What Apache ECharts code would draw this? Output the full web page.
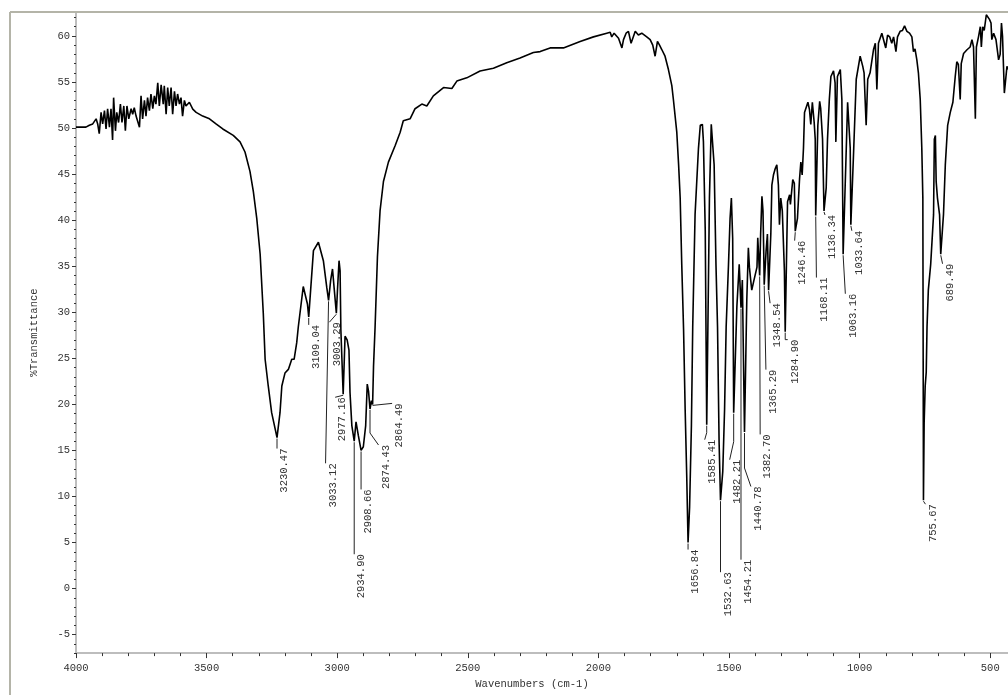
<!DOCTYPE html>
<html>
<head>
<meta charset="utf-8">
<title>IR spectrum</title>
<script src="https://cdn.jsdelivr.net/npm/echarts@6/dist/echarts.min.js"></script>
<style>
  html, body { margin: 0; padding: 0; background: #ffffff; }
  #chart { width: 1008px; height: 695px; }
</style>
</head>
<body>
<div id="chart"></div>
<script>
// Spectrum trace: wavenumber (cm-1) and %Transmittance, high to low wavenumber
const wavenumbers = [
  4000, 3962, 3949, 3936, 3923, 3917, 3911, 3904, 3898, 3891, 3885, 3879, 3872, 3866, 3860, 3856,
  3849, 3844, 3837, 3830, 3824, 3817, 3811, 3805, 3798, 3789, 3783, 3777, 3770, 3764, 3757, 3751,
  3745, 3738, 3732, 3726, 3719, 3713, 3706, 3700, 3694, 3687, 3681, 3674, 3666, 3662, 3655, 3649,
  3643, 3636, 3630, 3623, 3617, 3611, 3604, 3598, 3592, 3585, 3579, 3566, 3553, 3540, 3515, 3489,
  3464, 3438, 3398, 3372, 3353, 3334, 3321, 3308, 3295, 3283, 3276, 3264, 3251, 3238, 3230.47, 3219,
  3212, 3200, 3187, 3174, 3165, 3155, 3149, 3130, 3114, 3109.04, 3091, 3072, 3053, 3040, 3033.12, 3025,
  3018, 3012, 3003.29, 2999, 2993, 2989, 2986, 2977.16, 2970, 2962, 2955, 2951, 2944, 2934.9, 2928, 2919,
  2908.66, 2900, 2891, 2885, 2880, 2874.43, 2869, 2864.49, 2861, 2855, 2846, 2836, 2823, 2804, 2778, 2759,
  2747, 2721, 2702, 2676, 2657, 2632, 2593, 2561, 2542, 2504, 2453, 2402, 2351, 2300, 2249, 2223,
  2185, 2134, 2070, 2019, 1968, 1955, 1949, 1940, 1923, 1910, 1904, 1894, 1885, 1875, 1859, 1847,
  1834, 1815, 1802, 1792, 1783, 1774, 1766, 1757, 1745, 1732, 1719, 1713, 1700, 1693, 1687, 1681,
  1674, 1668, 1662, 1656.84, 1651, 1644, 1639, 1630, 1617, 1610, 1602, 1598, 1591, 1585.41, 1575, 1568,
  1562, 1557, 1550, 1544, 1538, 1532.63, 1524, 1517, 1511, 1502, 1496, 1491, 1486, 1482.21, 1470, 1461,
  1454.21, 1449, 1440.78, 1432, 1426, 1422, 1417, 1413, 1406, 1400, 1393, 1390, 1385, 1382.7, 1379, 1374,
  1370, 1367, 1365.29, 1358, 1353, 1348.54, 1340, 1336, 1330, 1323, 1317, 1311, 1307, 1302, 1296, 1288,
  1284.9, 1276, 1268, 1265, 1256, 1250, 1246.46, 1238, 1230, 1225, 1220, 1215, 1211, 1205, 1198, 1192,
  1187, 1181, 1174, 1170, 1168.11, 1160, 1153, 1149, 1142, 1136.34, 1128, 1123, 1116, 1110, 1100, 1094,
  1091, 1085, 1074, 1068, 1063.16, 1053, 1046, 1042, 1036, 1033.64, 1024, 1013, 998, 988, 983, 979,
  975, 969, 960, 947, 940, 934, 928, 915, 908, 900, 893, 885, 877, 870, 861, 855,
  845, 836, 828, 819, 809, 800, 794, 788, 781, 775, 768, 762, 758, 755.67, 753, 749,
  745, 742, 737, 728, 717, 714, 710, 707, 702, 694, 689.49, 679, 672, 663, 653, 643,
  634, 628, 622, 615, 611, 602, 589, 577, 570, 564, 557, 553, 545, 538, 534, 529,
  523, 515, 510, 503, 497, 494, 487, 478, 468, 462, 457, 453, 446, 441, 436, 432
];
const transmittance = [
  50.1, 50.1, 50.3, 50.45, 51.0, 50.45, 49.4, 51.7, 50.45, 51.9, 49.9, 52.1, 50.1, 52.1, 48.7, 53.3,
  49.7, 51.7, 50.6, 52.6, 50.6, 52.4, 49.7, 52.4, 51.0, 52.1, 51.5, 52.2, 51.3, 51.2, 50.1, 53.5,
  51.0, 53.0, 51.3, 53.3, 51.9, 53.7, 52.1, 53.5, 52.6, 54.9, 52.4, 54.7, 52.6, 54.6, 51.5, 54.4,
  52.4, 54.4, 51.5, 54.0, 52.4, 53.7, 52.6, 53.3, 51.3, 53.0, 52.4, 52.8, 52.05, 51.7, 51.3, 51.0,
  50.45, 49.9, 49.2, 48.5, 47.4, 45.3, 43.1, 40.2, 36.3, 29.9, 24.9, 22.0, 19.1, 17.4, 16.4, 19.1,
  22.0, 23.4, 23.8, 24.9, 24.9, 26.7, 28.4, 32.8, 30.9, 29.5, 36.7, 37.6, 35.6, 32.7, 31.3, 33.5,
  34.7, 32.7, 29.9, 32.4, 35.6, 34.5, 28.1, 21.1, 27.4, 27.0, 25.9, 21.3, 17.7, 16.0, 18.1, 16.6,
  15.0, 15.4, 17.7, 22.2, 21.4, 19.5, 20.4, 20.0, 24.1, 28.4, 36.0, 41.0, 44.2, 46.3, 48.1, 49.55,
  50.8, 51.0, 52.1, 52.6, 52.4, 53.5, 54.4, 54.3, 55.1, 55.45, 56.2, 56.5, 57.1, 57.6, 58.2, 58.3,
  58.7, 58.7, 59.4, 59.9, 60.3, 60.4, 59.9, 60.3, 59.75, 58.7, 59.6, 60.3, 60.5, 59.2, 60.5, 60.1,
  60.3, 59.9, 59.6, 59.0, 57.8, 59.4, 59.0, 58.5, 57.8, 56.35, 54.6, 53.1, 49.55, 46.0, 42.4, 35.2,
  28.1, 19.5, 12.3, 5.0, 8.8, 17.7, 28.4, 40.6, 47.8, 50.3, 50.4, 48.5, 38.8, 17.8, 42.4, 50.4,
  50.3, 46.0, 35.2, 28.4, 15.9, 9.6, 12.7, 19.5, 28.4, 35.2, 40.2, 42.4, 38.0, 19.1, 30.6, 35.2,
  30.5, 33.5, 17.0, 31.3, 37.0, 34.9, 33.5, 32.4, 33.3, 33.1, 34.9, 38.1, 35.2, 34.0, 38.5, 42.6,
  41.0, 36.3, 33.0, 36.7, 38.5, 32.4, 38.5, 43.8, 44.9, 45.6, 46.0, 43.8, 39.5, 42.4, 41.0, 34.5,
  27.9, 42.0, 42.75, 41.7, 44.4, 44.0, 38.8, 40.2, 44.5, 46.3, 44.9, 47.8, 51.7, 52.2, 52.8, 52.0,
  50.4, 52.8, 50.6, 48.8, 40.5, 50.3, 52.9, 52.1, 48.8, 41.0, 43.5, 48.8, 53.1, 55.6, 56.2, 54.9,
  48.5, 55.6, 56.35, 53.1, 36.3, 46.0, 52.8, 52.8, 47.8, 39.5, 46.7, 55.3, 57.8, 56.7, 56.0, 53.1,
  50.3, 55.3, 56.0, 58.5, 59.2, 54.2, 59.2, 60.3, 60.5, 58.7, 60.1, 59.9, 59.2, 59.9, 58.3, 59.9,
  60.5, 60.6, 61.1, 60.5, 60.3, 59.9, 58.3, 58.6, 57.4, 56.0, 53.1, 47.8, 42.4, 9.6, 18.0, 22.0,
  23.5, 28.4, 32.4, 35.2, 40.6, 48.8, 49.2, 44.2, 42.4, 40.6, 36.3, 40.6, 46.0, 50.3, 51.7, 52.8,
  55.6, 57.2, 56.9, 53.1, 57.0, 58.1, 58.5, 58.8, 59.6, 58.8, 51.0, 58.8, 59.9, 61.0, 58.8, 61.0,
  60.6, 62.3, 62.4, 61.8, 61.4, 59.6, 60.3, 59.6, 57.4, 58.0, 61.4, 60.0, 53.8, 53.8, 56.7, 56.35
];

// Annotated band positions (cm-1); the label text is the position itself
const peakPositions = [
  3230.47, 3109.04, 3033.12, 3003.29, 2977.16, 2934.90, 2908.66, 2874.43, 2864.49,
  1656.84, 1585.41, 1532.63, 1482.21, 1454.21, 1440.78, 1382.70, 1365.29, 1348.54,
  1284.90, 1246.46, 1168.11, 1136.34, 1063.16, 1033.64, 755.67, 689.49
];

// Axis tick values
const xTickLabels = [4000, 3500, 3000, 2500, 2000, 1500, 1000, 500];
const xMinorTicks = [];
for (let v = 4000; v >= 500; v -= 100) xMinorTicks.push(v);
const yTickLabels = [60, 55, 50, 45, 40, 35, 30, 25, 20, 15, 10, 5, 0, -5];
const yMinorTicks = [];
for (let v = -7; v <= 62; v += 1) yMinorTicks.push(v);

// Leader-line layout for each band label, in pixels relative to the band minimum:
// [end dx, end dy, optional bend dy]
const labelLayout = [
  [0, 11], [0, 8], [-3, 163], [-7, 9], [-8, 3], [0, 113], [0, 39], [8.5, 36, 24], [19.5, -1],
  [0, 7], [-2, 15, 8], [0, 72], [-4, 47, 29], [0, 252], [6.4, 54.5, 36], [0.5, 159], [1.7, 85], [1.5, 13],
  [2.5, 8, 8], [-0.6, 9.4], [0.7, 62], [1, 4], [2.2, 39.5], [1, 6], [2, 4], [1.8, 9.5]
];

const TEXT_FONT = '"Liberation Mono", "DejaVu Sans Mono", monospace';
const TEXT_COLOR = '#333333';

const spectrum = wavenumbers.map((w, i) => [w, transmittance[i]]);
const peakT = peakPositions.map(p => transmittance[wavenumbers.indexOf(p)]);

function renderPeakLabel(params, api) {
  const i = params.dataIndex;
  const p = api.coord([peakPositions[i], peakT[i]]);
  const lay = labelLayout[i];
  const pts = [[p[0], p[1] + 1]];
  if (lay[2] != null) pts.push([p[0], p[1] + lay[2]]);
  const end = [p[0] + lay[0], p[1] + lay[1]];
  pts.push(end);
  return {
    type: 'group',
    children: [
      {
        type: 'polyline',
        shape: { points: pts },
        style: { stroke: '#222222', lineWidth: 1, fill: null }
      },
      {
        type: 'text',
        x: end[0] + 2,
        y: end[1],
        rotation: Math.PI / 2,
        style: {
          text: peakPositions[i].toFixed(2),
          align: 'right',
          verticalAlign: 'top',
          fontFamily: TEXT_FONT,
          fontSize: 10.5,
          fill: TEXT_COLOR
        }
      }
    ]
  };
}

const plainNumber = v => String(v);

const chart = echarts.init(document.getElementById('chart'), null, { renderer: 'canvas' });

chart.setOption({
  backgroundColor: '#ffffff',
  animation: false,
  grid: { left: 76, right: 0, top: 12, bottom: 34, containLabel: false },
  xAxis: [
    {
      type: 'value',
      inverse: true,
      min: 432,
      max: 4000,
      position: 'bottom',
      name: 'Wavenumbers (cm-1)',
      nameLocation: 'middle',
      nameGap: 25,
      nameTextStyle: { fontFamily: TEXT_FONT, fontSize: 10.5, color: TEXT_COLOR, padding: [0, 20, 0, 0] },
      axisLine: { show: true, onZero: false, lineStyle: { color: '#bdbdbd', width: 2 } },
      axisTick: { show: true, customValues: xTickLabels, length: 5, lineStyle: { color: '#333333' } },
      axisLabel: {
        customValues: xTickLabels,
        formatter: plainNumber,
        fontFamily: TEXT_FONT, fontSize: 10.5, color: TEXT_COLOR, margin: 10
      },
      splitLine: { show: false }
    },
    {
      type: 'value',
      inverse: true,
      min: 432,
      max: 4000,
      position: 'bottom',
      axisLine: { show: false, onZero: false },
      axisTick: { show: true, customValues: xMinorTicks, length: 3, lineStyle: { color: '#333333' } },
      axisLabel: { show: false },
      splitLine: { show: false }
    }
  ],
  yAxis: [
    {
      type: 'value',
      min: -7,
      max: 62.6,
      position: 'left',
      name: '%Transmittance',
      nameLocation: 'middle',
      nameGap: 36,
      nameTextStyle: { fontFamily: TEXT_FONT, fontSize: 10.5, color: TEXT_COLOR },
      axisLine: { show: true, onZero: false, lineStyle: { color: '#bdbdbd', width: 2 } },
      axisTick: { show: true, customValues: yTickLabels, length: 4, lineStyle: { color: '#333333' } },
      axisLabel: {
        customValues: yTickLabels,
        formatter: plainNumber,
        fontFamily: TEXT_FONT, fontSize: 10.5, color: TEXT_COLOR, margin: 6
      },
      splitLine: { show: false }
    },
    {
      type: 'value',
      min: -7,
      max: 62.6,
      position: 'left',
      axisLine: { show: false, onZero: false },
      axisTick: { show: true, customValues: yMinorTicks, length: 2, lineStyle: { color: '#333333' } },
      axisLabel: { show: false },
      splitLine: { show: false }
    }
  ],
  graphic: [
    { type: 'line', shape: { x1: 10, y1: 12, x2: 1008, y2: 12 }, style: { stroke: '#b4b4a8', lineWidth: 2 }, z: 10 },
    { type: 'line', shape: { x1: 10, y1: 12, x2: 10, y2: 695 }, style: { stroke: '#b4b4a8', lineWidth: 2 }, z: 10 }
  ],
  series: [
    {
      type: 'line',
      data: spectrum,
      xAxisIndex: 0,
      yAxisIndex: 0,
      showSymbol: false,
      symbol: 'none',
      lineStyle: { color: '#000000', width: 1.6 },
      clip: true,
      z: 3
    },
    {
      type: 'custom',
      xAxisIndex: 0,
      yAxisIndex: 0,
      data: peakPositions.map((p, i) => [p, peakT[i]]),
      renderItem: renderPeakLabel,
      clip: false,
      z: 4
    }
  ]
});
</script>
</body>
</html>
